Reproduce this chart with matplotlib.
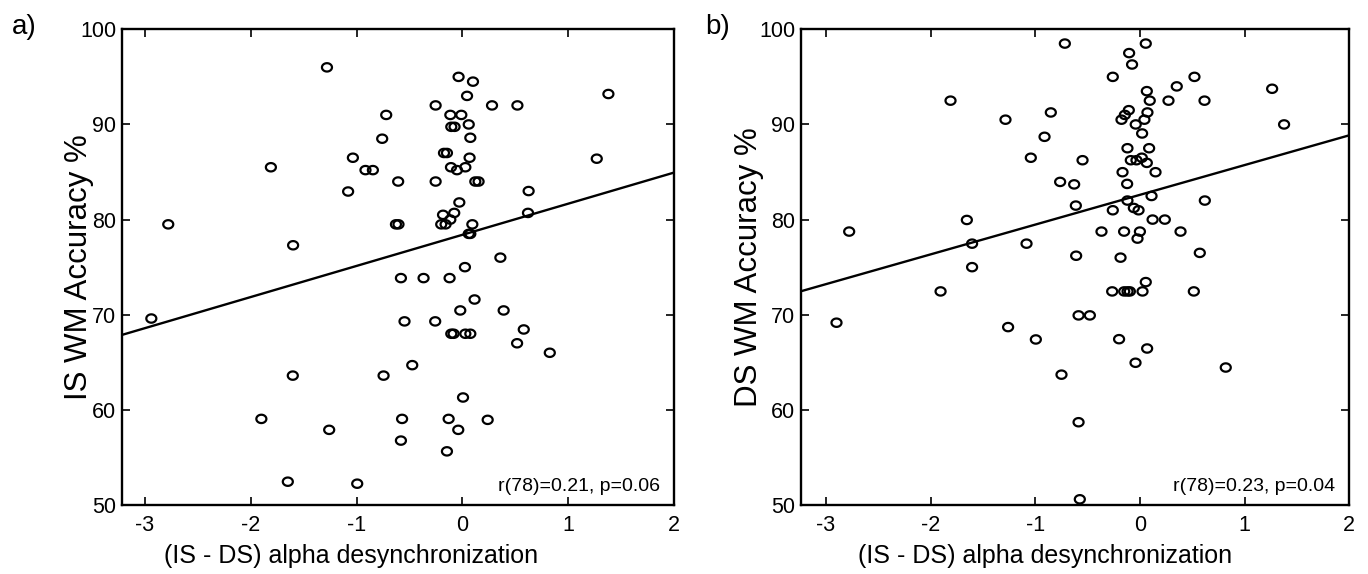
import numpy as np
import matplotlib
matplotlib.use("Agg")
import matplotlib.pyplot as plt
from matplotlib.path import Path

plt.rcParams['font.family'] = ['Liberation Sans', 'DejaVu Sans']
plt.rcParams['axes.unicode_minus'] = False

# ---- Panel a) data: (IS - DS) alpha desync vs IS WM accuracy ----
a_x = [-1.28, -0.72, -0.758, -1.035, -0.916, -0.846, -1.81, -1.08, -2.78, -1.60,
       -0.036, 0.10, 0.044, 1.38, -0.253, 0.28, 0.52, -0.114, -0.01,
       -0.105, -0.074, 0.06, 0.075, -0.174, -0.146, 0.068, 1.27,
       -0.108, -0.051, 0.028, -0.607, -0.253, 0.122, 0.153, 0.626, -0.029,
       -0.183, -0.077, -0.114, 0.62, -0.628, -0.604, -0.20, -0.159, 0.094,
       0.06, 0.075, 0.359, 0.024,
       -0.581, -0.367, -0.121, 0.115, -0.02, 0.39, -0.547, -0.257,
       -0.105, -0.083, 0.028, 0.075, 0.58, 0.517, 0.826, -0.474, -0.745,
       0.006, -0.57, -0.13, 0.239, -0.039, -0.581, -0.146,
       -2.94, -1.603, -1.90, -1.259, -1.65, -0.994]
a_y = [96.0, 91.0, 88.5, 86.5, 85.2, 85.2, 85.5, 82.95, 79.5, 77.3,
       95.0, 94.5, 93.0, 93.2, 92.0, 92.0, 92.0, 91.0, 91.0,
       89.75, 89.75, 90.0, 88.6, 87.0, 87.0, 86.5, 86.4,
       85.5, 85.2, 85.5, 84.0, 84.0, 84.0, 84.0, 83.0, 81.8,
       80.5, 80.7, 80.0, 80.7, 79.5, 79.5, 79.5, 79.5, 79.5,
       78.5, 78.5, 76.0, 75.0,
       73.85, 73.85, 73.85, 71.6, 70.45, 70.45, 69.3, 69.3,
       68.0, 68.0, 68.0, 68.0, 68.45, 67.0, 66.0, 64.7, 63.6,
       61.3, 59.05, 59.05, 58.95, 57.9, 56.77, 55.64,
       69.6, 63.6, 59.05, 57.9, 52.45, 52.24]
a_fit = (78.4, 3.27)          # intercept, slope of the drawn regression line
a_stat = "r(78)=0.21, p=0.06"

# ---- Panel b) data: (IS - DS) alpha desync vs DS WM accuracy ----
b_x = [-0.717, -1.809, -1.284, -0.851, -0.911, -1.042, -0.548, -0.762, -0.628, -0.612,
       -1.653, -2.777, -1.603, -1.083, -0.609, -1.603,
       -1.904, -2.898, -1.259, -0.994, -0.749, -0.586, -0.586, -0.574,
       -0.185, -0.478, -0.265, -0.15, -0.118, -0.096, 0.025, 0.056, 0.515,
       -0.199, 0.069, -0.042, 0.82,
       0.056, -0.103, -0.075, -0.259, 0.521, 0.352, 1.263, 0.066, 0.094, 0.273, 0.617,
       -0.106, -0.144, -0.176, 0.072, 0.043, -0.04, 1.377, 0.021, -0.119, 0.088,
       -0.087, -0.033, 0.018, 0.066, -0.166, 0.149, -0.122, 0.111, 0.62, -0.119,
       -0.259, -0.058, -0.013, 0.121, 0.238, -0.367, -0.151, 0.0, -0.023, 0.388, 0.572]
b_y = [98.5, 92.5, 90.5, 91.26, 88.7, 86.5, 86.24, 83.96, 83.7, 81.47,
       79.96, 78.74, 77.47, 77.47, 76.2, 75.0,
       72.45, 69.16, 68.7, 67.4, 63.7, 69.93, 58.7, 50.6,
       76.0, 69.93, 72.45, 72.45, 72.45, 72.45, 72.45, 73.43, 72.45,
       67.43, 66.45, 64.95, 64.45,
       98.5, 97.5, 96.3, 95.0, 95.0, 94.0, 93.75, 93.5, 92.5, 92.5, 92.5,
       91.5, 91.0, 90.5, 91.26, 90.5, 90.0, 90.0, 89.05, 87.5, 87.5,
       86.24, 86.24, 86.5, 85.96, 84.98, 84.98, 83.75, 82.48, 82.0, 82.0,
       80.98, 81.22, 80.98, 80.0, 80.0, 78.74, 78.74, 78.74, 78.0, 78.74, 76.5]
b_fit = (82.6, 3.13)
b_stat = "r(78)=0.23, p=0.04"

x_ticks = [-3, -2, -1, 0, 1, 2]
y_ticks = [50, 60, 70, 80, 90, 100]
x_label = "(IS - DS) alpha desynchronization"

W, H = 1368, 574
fig = plt.figure(figsize=(W / 100, H / 100), dpi=100)

# slightly wide ellipse marker (the reference is stretched horizontally)
t = np.linspace(0, 2 * np.pi, 60)
ell = Path(np.column_stack([1.2 * np.cos(t), np.sin(t)]), closed=True)

panels = [
    dict(x=a_x, y=a_y, fit=a_fit, stat=a_stat, ylabel="IS WM Accuracy %", tag="a)",
         rect=[121.7, 674.0], xlim=(-3.22, 2), xlab_x=0.415, ylab_x=-0.050, tag_x=12),
    dict(x=b_x, y=b_y, fit=b_fit, stat=b_stat, ylabel="DS WM Accuracy %", tag="b)",
         rect=[800.7, 1349.3], xlim=(-3.24, 2), xlab_x=0.445, ylab_x=-0.066, tag_x=705),
]

top_px, bot_px = 29.3, 505.0
for p in panels:
    l, r = p["rect"]
    ax = fig.add_axes([l / W, 1 - bot_px / H, (r - l) / W, (bot_px - top_px) / H])
    ax.scatter(p["x"], p["y"], marker=ell, s=52, facecolors='none',
               edgecolors='black', linewidths=1.6, zorder=3)
    xs = np.array(p["xlim"])
    ax.plot(xs, p["fit"][0] + p["fit"][1] * xs, color='black', lw=1.7, zorder=2)
    ax.set_xlim(*p["xlim"])
    ax.set_ylim(50, 100)
    ax.set_xticks(x_ticks)
    ax.set_yticks(y_ticks)
    ax.tick_params(direction='in', top=True, right=True, length=6, width=1.2,
                   labelsize=15.5, colors='black')
    ax.tick_params(axis='x', pad=7)
    ax.tick_params(axis='y', pad=4)
    for s in ax.spines.values():
        s.set_linewidth(1.7)
    ax.set_xlabel(x_label, fontsize=18)
    ax.xaxis.set_label_coords(p["xlab_x"], -0.082)
    ax.set_ylabel(p["ylabel"], fontsize=22.5)
    ax.yaxis.set_label_coords(p["ylab_x"], 0.5)
    ax.text(0.975, 0.02, p["stat"], transform=ax.transAxes, ha='right', va='bottom',
            fontsize=14)
    fig.text(p["tag_x"] / W, 1 - 34 / H, p["tag"], fontsize=20, ha='left', va='baseline')

fig.savefig("out.png", dpi=100)
